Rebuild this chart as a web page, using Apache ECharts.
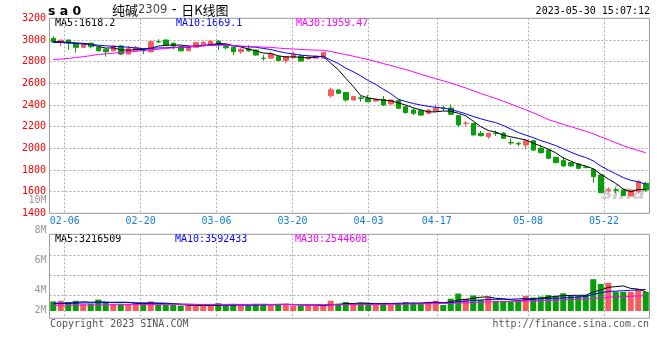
<!DOCTYPE html>
<html><head><meta charset="utf-8">
<script src="https://cdn.jsdelivr.net/npm/echarts@6.0.0/dist/echarts.min.js"></script>
<style>html,body{margin:0;padding:0;background:#fff}#c{width:660px;height:360px}</style>
</head><body><div id="c"></div>
<script>
const dates = ['02-02','02-03','02-06','02-07','02-08','02-09','02-10','02-13','02-14','02-15','02-16','02-17','02-20','02-21','02-22','02-23','02-24','02-27','02-28',
'03-01','03-02','03-03','03-06','03-07','03-08','03-09','03-10','03-13','03-14','03-15','03-16','03-17','03-20','03-21','03-22','03-23','03-24','03-27','03-28','03-29','03-30','03-31',
'04-03','04-04','04-06','04-07','04-10','04-11','04-12','04-13','04-14','04-17','04-18','04-19','04-20','04-21','04-24','04-25','04-26','04-27','04-28',
'05-04','05-05','05-08','05-09','05-10','05-11','05-12','05-15','05-16','05-17','05-18','05-19','05-22','05-23','05-24','05-25','05-26','05-29','05-30'];
const labelDates = ['02-06','02-20','03-06','03-20','04-03','04-17','05-08','05-22'];

const opens = [3015,2978,3000,2970,2932,2970,2932,2914,2900,2944,2870,2900,2914,2892,2985,3000,2970,2938,2900,2932,2955,2953,2990,2940,2932,2892,2917,2907,2832,2832,2846,2810,2836,2852,2825,2832,2831,2485,2538,2515,2446,2465,2462,2436,2452,2409,2440,2384,2353,2347,2323,2344,2372,2372,2302,2230,2230,2138,2107,2140,2140,2052,2045,2030,2070,2000,1984,1917,1886,1868,1855,1827,1806,1754,1612,1616,1615,1560,1600,1677];
const closes = [2980,2998,2970,2932,2963,2938,2900,2892,2944,2870,2920,2932,2900,2984,2982,2954,2945,2900,2938,2975,2978,2990,2953,2928,2892,2914,2900,2861,2829,2870,2810,2846,2866,2806,2843,2852,2886,2540,2508,2446,2477,2462,2430,2452,2400,2446,2370,2329,2323,2307,2353,2370,2368,2314,2215,2232,2123,2116,2138,2137,2092,2050,2040,2070,1984,1960,1908,1868,1837,1837,1815,1825,1738,1590,1616,1613,1563,1615,1692,1615];
const lows = [2975,2940,2908,2882,2926,2923,2892,2846,2895,2861,2865,2895,2870,2880,2975,2950,2914,2892,2895,2923,2950,2950,2907,2910,2861,2870,2892,2855,2810,2830,2805,2785,2830,2800,2820,2828,2828,2467,2500,2430,2440,2430,2425,2432,2390,2405,2365,2320,2307,2300,2314,2340,2345,2310,2200,2200,2120,2110,2085,2115,2090,2030,2020,1990,1975,1950,1900,1860,1830,1830,1810,1815,1683,1588,1590,1585,1560,1555,1590,1600];
const highs = [3035,3005,3002,2975,2968,2975,2935,2920,2953,2953,2945,2945,2923,2990,3006,3003,2975,2945,2953,2984,2990,3000,2995,2963,2935,2923,2953,2910,2861,2892,2850,2852,2890,2870,2850,2860,2890,2560,2545,2518,2485,2483,2492,2458,2483,2452,2446,2390,2370,2353,2363,2400,2392,2406,2305,2252,2235,2160,2145,2163,2150,2092,2060,2075,2077,2030,1990,1920,1920,1872,1860,1840,1810,1760,1640,1640,1618,1620,1710,1690];

const ma5 = [2985,2983,2978,2972,2968.6,2960.2,2940.6,2925,2927.4,2908.8,2905.2,2911.6,2913.2,2921.2,2943.6,2950.4,2953,2953,2943.8,2942.4,2947.2,2956.2,2966.8,2964.8,2948.2,2935.4,2917.4,2899,2879.2,2874.8,2854,2843.2,2844.2,2839.6,2834.2,2842.6,2850.6,2785.4,2725.8,2646.4,2571.4,2486.6,2464.6,2453.4,2444.2,2438,2419.6,2399.4,2373.6,2355,2336.4,2336.4,2344.2,2342.4,2324,2299.8,2250.4,2200,2164.8,2149.2,2121.2,2106.6,2091.4,2077.8,2047.2,2020.8,1992.4,1958,1911.4,1882,1853,1836.4,1810.4,1761,1716.8,1676.4,1624,1599.4,1619.8,1618.2];
const ma10 = [2978,2976,2973,2968,2963,2958,2952,2946,2942,2938.7,2932.7,2926.1,2919.1,2924.3,2926.2,2927.8,2932.3,2933.1,2932.5,2943,2948.8,2954.6,2959.9,2954.3,2945.3,2941.3,2936.8,2932.9,2922,2911.5,2894.7,2880.3,2871.6,2859.4,2854.5,2848.3,2846.9,2814.8,2782.7,2740.3,2707,2668.6,2625,2589.6,2545.3,2504.7,2453.1,2432,2413.5,2399.6,2387.2,2378,2371.8,2358,2339.5,2318.1,2293.4,2272.1,2253.6,2236.6,2210.5,2178.5,2145.7,2121.3,2098.2,2071,2049.5,2024.7,1994.6,1964.6,1936.9,1914.4,1884.2,1836.2,1799.4,1764.7,1730.2,1704.9,1690.4,1669.1];
const ma30 = [2820,2823,2830,2838,2846,2855,2866,2872,2878,2884,2890,2896,2903,2909,2915,2922,2927,2932,2937,2942,2946,2949,2952,2950,2947,2944,2940,2937,2934,2931.1,2925.4,2920.3,2916.9,2912.7,2908.7,2905.8,2905.3,2893.6,2879.1,2864.9,2850.2,2834.5,2818.8,2801.1,2781.7,2764.8,2745.6,2726.6,2706.1,2683.8,2663,2642.3,2622.8,2602.3,2579.8,2557,2531.1,2506.3,2483.3,2458.8,2434.9,2408.4,2380.8,2356.3,2327.7,2297.9,2265.3,2242.9,2220.6,2200.3,2178.2,2157,2133.9,2105.2,2079,2051.3,2024.4,2000.6,1979.5,1959.47];

// volume in millions
const volumes = [1.6,1.7,1.5,1.7,1.2,1.2,1.9,1.5,1.2,1.2,1.2,1.2,1.3,1.6,1.0,1.0,1.0,0.9,0.9,0.9,0.9,0.9,1.3,0.9,1.2,0.9,0.9,1.2,1.2,0.9,1.2,1.2,0.9,0.9,0.9,0.9,0.85,1.7,1.2,1.5,1.0,1.35,1.35,1.0,1.35,1.0,1.35,1.5,1.35,1.35,1.5,1.7,1.0,2.05,2.9,2.05,2.6,1.9,2.35,1.7,1.7,1.7,1.7,2.5,2.25,2.4,2.65,2.5,2.95,2.5,2.5,2.65,5.3,4.5,4.7,3.2,3.2,3.2,3.65,3.2];
const volMa5 = [1.2,1.25,1.3,1.4,1.54,1.46,1.5,1.5,1.4,1.4,1.44,1.26,1.22,1.3,1.26,1.22,1.18,1.1,0.96,0.94,0.92,0.9,0.98,0.98,1.04,1.04,1.04,1.02,1.08,1.02,1.08,1.14,1.08,1.02,1.02,1.02,0.89,1.05,1.11,1.23,1.25,1.35,1.28,1.24,1.21,1.21,1.21,1.24,1.31,1.31,1.41,1.48,1.38,1.52,1.83,1.94,2.11,2.3,2.36,2.12,2.05,1.87,1.77,1.86,1.97,2.11,2.3,2.46,2.55,2.6,2.62,2.62,3.18,3.49,3.93,4.07,4.18,3.76,3.65,3.22];
const volMa10 = [1.3,1.3,1.3,1.3,1.35,1.35,1.4,1.4,1.45,1.47,1.43,1.38,1.36,1.35,1.33,1.31,1.22,1.16,1.13,1.1,1.07,1.04,1.04,0.97,0.99,0.98,0.97,1.0,1.03,1.03,1.06,1.09,1.05,1.05,1.02,1.02,1.01,1.06,1.06,1.12,1.13,1.15,1.17,1.18,1.23,1.24,1.29,1.27,1.29,1.27,1.32,1.35,1.31,1.38,1.54,1.65,1.77,1.81,1.91,1.94,1.96,1.96,2.03,2.08,2.02,2.06,2.07,2.13,2.17,2.25,2.33,2.42,2.78,3.02,3.25,3.32,3.38,3.45,3.52,3.59];
const volMa30 = [0.95,0.96,0.97,0.98,0.99,1.0,1.01,1.02,1.03,1.04,1.05,1.06,1.07,1.08,1.09,1.1,1.1,1.1,1.1,1.1,1.1,1.1,1.1,1.1,1.1,1.1,1.1,1.1,1.1,1.1,1.1,1.09,1.08,1.07,1.06,1.05,1.04,1.05,1.05,1.06,1.06,1.07,1.08,1.09,1.1,1.11,1.13,1.15,1.17,1.19,1.21,1.23,1.25,1.28,1.32,1.36,1.41,1.45,1.49,1.52,1.55,1.58,1.61,1.65,1.69,1.73,1.77,1.81,1.86,1.9,1.94,1.98,2.1,2.2,2.3,2.35,2.4,2.45,2.5,2.54];

const volTickLabels = ['2M','','4M','','','6M','','','8M','','','10M'];
const priceHeader = ['MA5:1618.2','MA10:1669.1','MA30:1959.47'];
const volHeader = ['MA5:3216509','MA10:3592433','MA30:2544608'];

const UP = '#f65c5c', DOWN = '#0a9e0a';
const MONO = '"DejaVu Sans Mono", "Liberation Mono", monospace';
const dotted = {color: '#acacac', type: [2, 2], width: 1};
const isLabelDate = (i, v) => labelDates.indexOf(v) >= 0;

const chart = echarts.init(document.getElementById('c'));
const lineS = (data, color, xi, yi) => ({
  type: 'line', data, xAxisIndex: xi, yAxisIndex: yi, symbol: 'none', silent: true,
  lineStyle: {color, width: 1}, z: 4
});
const txt = (text, x, y, fill, extra) => ({
  type: 'text', x, y, silent: true,
  style: Object.assign({text, fill, fontFamily: MONO, fontSize: 10, verticalAlign: 'middle', align: 'left'}, extra || {})
});

chart.setOption({
  animation: false,
  grid: [
    {left: 49.5, width: 600, top: 18.3, height: 195, show: true, borderColor: '#999', borderWidth: 1},
    {left: 49.5, width: 600, top: 234.3, height: 84, show: true, borderColor: '#999', borderWidth: 1},
    {left: 49.5, width: 600, top: 234.3, height: 61.4, show: false},
    {left: 49.5, width: 600, top: 200.7, height: 110, show: false}
  ],
  xAxis: [
    {type: 'category', gridIndex: 0, data: dates, boundaryGap: true, position: 'top', show: false},
    {type: 'category', gridIndex: 0, data: dates, boundaryGap: false, position: 'bottom',
     axisLine: {show: false}, axisTick: {show: false},
     axisLabel: {interval: isLabelDate, color: '#1580d8', fontFamily: MONO, fontSize: 10, margin: 3},
     splitLine: {show: true, interval: isLabelDate, lineStyle: dotted}},
    {type: 'category', gridIndex: 1, data: dates, boundaryGap: true, position: 'top', show: false},
    {type: 'category', gridIndex: 1, data: dates, boundaryGap: false, position: 'bottom',
     axisLine: {show: false}, axisTick: {show: false}, axisLabel: {show: false},
     splitLine: {show: true, interval: isLabelDate, lineStyle: dotted}},
    {type: 'category', gridIndex: 2, data: dates, show: false},
    {type: 'category', gridIndex: 3, data: dates, show: false}
  ],
  yAxis: [
    {type: 'value', gridIndex: 0, min: 1400, max: 3200, interval: 200,
     axisLine: {show: false}, axisTick: {show: false},
     axisLabel: {color: '#ff0000', fontFamily: MONO, fontSize: 10, margin: 3.5, padding: [0, 0, 4, 0],
                 showMinLabel: true, showMaxLabel: true, formatter: v => String(v)},
     splitLine: {show: true, lineStyle: dotted}},
    {type: 'value', gridIndex: 1, min: -1.2167, max: 12.783, show: false, splitLine: {show: false}},
    {type: 'value', gridIndex: 2, min: 0, max: 3, interval: 1,
     axisLine: {show: false}, axisTick: {show: false}, axisLabel: {show: false},
     splitLine: {show: true, lineStyle: dotted}},
    {type: 'category', gridIndex: 3, data: volTickLabels, boundaryGap: false,
     axisLine: {show: false}, axisTick: {show: false}, splitLine: {show: false},
     axisLabel: {interval: 0, color: '#999', fontFamily: MONO, fontSize: 10, margin: 3}}
  ],
  series: [
    {type: 'candlestick', xAxisIndex: 0, yAxisIndex: 0, silent: true, barWidth: 5,
     data: opens.map((o, i) => [o, closes[i], lows[i], highs[i]]),
     itemStyle: {color: UP, color0: DOWN, borderColor: UP, borderColor0: DOWN, borderWidth: 1}, z: 3},
    lineS(ma5, '#000000', 0, 0),
    lineS(ma10, '#0000ff', 0, 0),
    lineS(ma30, '#ff00ff', 0, 0),
    {type: 'bar', xAxisIndex: 2, yAxisIndex: 1, silent: true, barWidth: 6,
     data: volumes.map((v, i) => ({value: v, itemStyle: {color: closes[i] >= opens[i] ? UP : DOWN}})), z: 3},
    lineS(volMa5, '#000000', 2, 1),
    lineS(volMa10, '#0000ff', 2, 1),
    lineS(volMa30, '#ff00ff', 2, 1)
  ],
  graphic: [
    {type: 'text', x: 601, y: 194, z: 0, silent: true,
     style: {text: 'sina', fill: 'rgba(170,170,170,0.55)', fontFamily: 'DejaVu Sans', fontSize: 19, fontWeight: 'bold', fontStyle: 'italic', verticalAlign: 'middle'}},
    txt('s a 0', 48, 12, '#000', {fontFamily: '"DejaVu Sans"', fontSize: 12.5, fontWeight: 'bold'}),
    {type: 'text', x: 112, y: 10.5, silent: true,
     style: {text: '{a|纯碱}{b|2309}{c| - }{a|日K线图}', verticalAlign: 'middle',
       rich: {a: {fontFamily: '"Noto Sans CJK SC"', fontSize: 13, fill: '#000'},
              b: {fontFamily: '"DejaVu Sans"', fontSize: 11.5, fill: '#444'},
              c: {fontFamily: '"DejaVu Sans"', fontSize: 14, fill: '#000'}}}},
    txt('2023-05-30 15:07:12', 650, 11.5, '#000', {align: 'right'}),
    txt(priceHeader[0], 55, 23.5, '#000'),
    txt(priceHeader[1], 176, 23.5, '#0000ff'),
    txt(priceHeader[2], 296, 23.5, '#ff00ff'),
    txt(volHeader[0], 55, 239.5, '#000'),
    txt(volHeader[1], 175, 239.5, '#0000ff'),
    txt(volHeader[2], 295, 239.5, '#ff00ff'),
    txt('Copyright 2023 SINA.COM', 50, 324.5, '#555'),
    txt('http://finance.sina.com.cn', 649, 324.5, '#555', {align: 'right'})
  ]
});
</script></body></html>
